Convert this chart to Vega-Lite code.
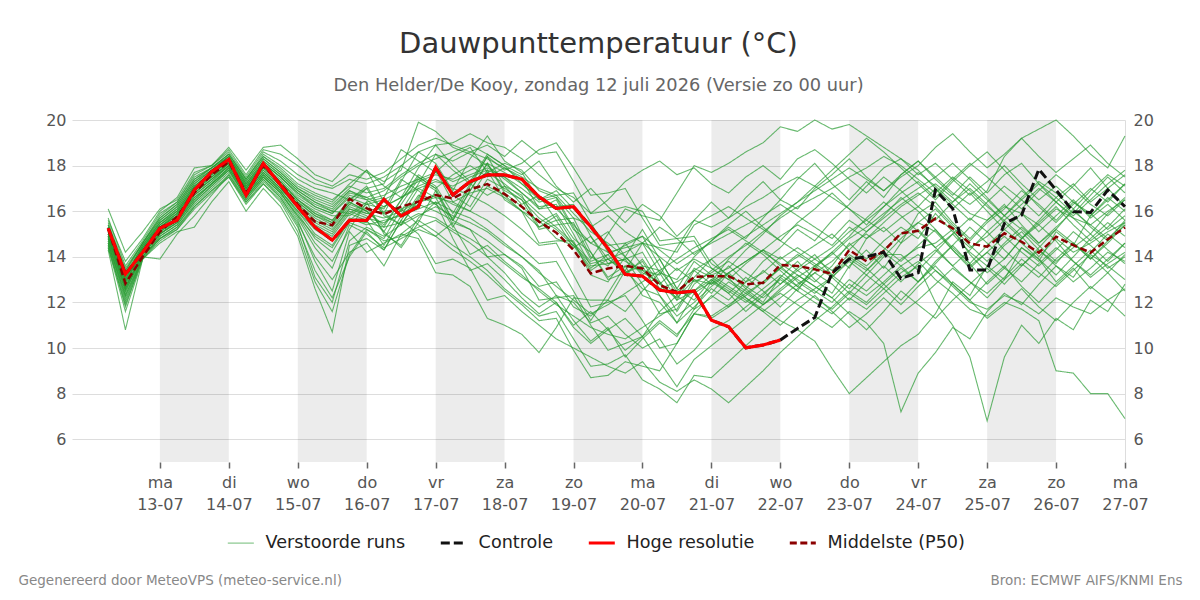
{
  "$schema": "https://vega.github.io/schema/vega-lite/v6.json",
  "width": 1053,
  "height": 342,
  "autosize": {"type": "none"},
  "padding": {"left": 72, "top": 120, "right": 75, "bottom": 138},
  "background": "white",
  "title": {
    "text": "Dauwpunttemperatuur (°C)",
    "subtitle": "Den Helder/De Kooy, zondag 12 juli 2026 (Versie zo 00 uur)",
    "font": "DejaVu Sans", "subtitleFont": "DejaVu Sans",
    "fontSize": 29, "subtitleFontSize": 17.8, "fontWeight": "normal",
    "color": "#333333", "subtitleColor": "#666666",
    "anchor": "middle", "offset": 17, "subtitlePadding": 18
  },
  "config": {"view": {"stroke": null}, "font": "DejaVu Sans", "legend": {"layout": {"bottom": {"anchor": "middle"}}}},
  "datasets": {
    "bands": [{"van":24,"tot":48},{"van":72,"tot":96},{"van":120,"tot":144},{"van":168,"tot":192},{"van":216,"tot":240},{"van":264,"tot":288},{"van":312,"tot":336}],
    "fc": [
{"uur":6,"ctl":15.25,"hres":15.25,"p50":15.25,"a":15.0,"b":14.6,"c":15.3,"d":14.8,"e":15.5,"f":14.4,"g":15.1,"h":14.9,"i":15.6,"j":14.7,"k":15.2,"l":14.5,"m":15.4,"n":14.9,"o":16.1,"p":14.3,"q":15.0,"r":15.2,"s":14.8,"t":15.3,"u":14.6,"v":15.1,"w":14.9,"x":15.7,"y":14.4,"z":15.0,"A":14.8,"B":15.3,"C":14.6,"D":15.1,"E":14.9,"F":15.4,"G":14.7,"H":15.0,"I":15.2,"J":14.5},
{"uur":12,"ctl":13.24,"hres":13.24,"p50":12.83,"a":12.8,"b":12.3,"c":13.2,"d":12.6,"e":13.5,"f":11.9,"g":13.0,"h":12.7,"i":13.8,"j":12.4,"k":13.1,"l":12.0,"m":13.3,"n":12.9,"o":14.2,"p":10.8,"q":12.6,"r":13.0,"s":12.5,"t":13.4,"u":12.2,"v":12.9,"w":12.7,"x":13.6,"y":11.6,"z":12.8,"A":12.5,"B":13.2,"C":12.1,"D":13.0,"E":12.6,"F":13.4,"G":12.3,"H":12.9,"I":13.1,"J":11.8},
{"uur":18,"ctl":14.2,"hres":14.2,"p50":14.0,"a":14.3,"b":14.0,"c":14.5,"d":14.2,"e":14.6,"f":13.9,"g":14.4,"h":14.1,"i":14.8,"j":14.2,"k":14.4,"l":14.0,"m":14.6,"n":14.3,"o":15.1,"p":13.9,"q":14.2,"r":14.4,"s":14.1,"t":14.6,"u":14.0,"v":14.3,"w":14.2,"x":14.7,"y":13.9,"z":14.3,"A":14.1,"B":14.5,"C":14.0,"D":14.4,"E":14.2,"F":14.6,"G":14.1,"H":14.3,"I":14.5,"J":14.0},
{"uur":24,"ctl":15.25,"hres":15.25,"p50":15.1,"a":15.3,"b":14.9,"c":15.6,"d":15.1,"e":15.8,"f":14.7,"g":15.4,"h":15.0,"i":16.0,"j":15.2,"k":15.5,"l":14.8,"m":15.7,"n":15.3,"o":16.1,"p":14.6,"q":15.2,"r":15.4,"s":15.0,"t":15.6,"u":13.9,"v":15.3,"w":15.1,"x":15.9,"y":14.8,"z":15.3,"A":15.0,"B":15.5,"C":14.9,"D":15.4,"E":15.1,"F":15.7,"G":15.0,"H":15.3,"I":15.5,"J":14.8},
{"uur":30,"ctl":15.61,"hres":15.61,"p50":15.76,"a":15.9,"b":15.4,"c":16.2,"d":15.6,"e":16.4,"f":15.2,"g":16.0,"h":15.5,"i":16.6,"j":15.7,"k":16.1,"l":15.3,"m":16.3,"n":15.8,"o":16.5,"p":15.1,"q":15.7,"r":16.0,"s":15.5,"t":16.2,"u":15.0,"v":15.8,"w":15.6,"x":16.4,"y":15.3,"z":15.9,"A":15.6,"B":16.1,"C":15.4,"D":15.9,"E":15.7,"F":16.3,"G":15.5,"H":15.8,"I":16.0,"J":15.2},
{"uur":36,"ctl":16.93,"hres":16.93,"p50":16.8,"a":17.0,"b":16.4,"c":17.3,"d":16.7,"e":17.6,"f":16.1,"g":17.1,"h":16.6,"i":17.9,"j":16.8,"k":17.2,"l":16.2,"m":17.4,"n":16.9,"o":17.7,"p":15.3,"q":16.8,"r":17.1,"s":16.5,"t":17.3,"u":15.8,"v":16.9,"w":16.7,"x":17.5,"y":16.3,"z":17.0,"A":16.6,"B":17.2,"C":16.4,"D":17.0,"E":16.8,"F":17.4,"G":16.5,"H":16.9,"I":17.1,"J":16.2},
{"uur":42,"ctl":17.73,"hres":17.73,"p50":17.6,"a":17.6,"b":17.1,"c":17.9,"d":17.3,"e":18.0,"f":16.8,"g":17.7,"h":17.2,"i":18.0,"j":17.4,"k":17.8,"l":16.9,"m":17.9,"n":17.5,"o":18.0,"p":16.4,"q":17.4,"r":17.7,"s":17.2,"t":17.8,"u":16.7,"v":17.5,"w":17.3,"x":17.9,"y":17.0,"z":17.6,"A":17.2,"B":17.8,"C":17.1,"D":17.6,"E":17.4,"F":17.9,"G":17.2,"H":17.5,"I":17.7,"J":16.9},
{"uur":48,"ctl":18.27,"hres":18.27,"p50":18.17,"a":18.2,"b":17.8,"c":18.4,"d":18.0,"e":18.6,"f":17.5,"g":18.3,"h":17.9,"i":18.8,"j":18.1,"k":18.4,"l":17.6,"m":18.5,"n":18.1,"o":18.7,"p":17.3,"q":18.0,"r":18.3,"s":17.9,"t":18.4,"u":17.6,"v":18.1,"w":18.0,"x":18.5,"y":17.7,"z":18.2,"A":17.9,"B":18.4,"C":17.8,"D":18.2,"E":18.0,"F":18.5,"G":17.8,"H":18.1,"I":18.3,"J":17.5},
{"uur":54,"ctl":16.7,"hres":16.7,"p50":16.8,"a":17.0,"b":16.6,"c":17.3,"d":16.8,"e":17.5,"f":16.3,"g":17.1,"h":16.7,"i":17.8,"j":16.9,"k":17.2,"l":16.4,"m":17.4,"n":17.0,"o":17.6,"p":16.0,"q":16.8,"r":17.1,"s":16.7,"t":17.3,"u":16.5,"v":17.0,"w":16.8,"x":17.4,"y":16.5,"z":17.0,"A":16.7,"B":17.2,"C":16.6,"D":17.1,"E":16.9,"F":17.4,"G":16.6,"H":17.0,"I":17.2,"J":16.4},
{"uur":60,"ctl":18.1,"hres":18.1,"p50":18.0,"a":18.0,"b":17.5,"c":18.3,"d":17.7,"e":18.6,"f":17.2,"g":18.1,"h":17.6,"i":18.8,"j":17.8,"k":18.2,"l":17.3,"m":18.4,"n":17.9,"o":18.7,"p":17.0,"q":17.7,"r":18.1,"s":17.6,"t":18.3,"u":17.4,"v":17.9,"w":17.7,"x":18.5,"y":17.4,"z":18.0,"A":17.6,"B":18.2,"C":17.5,"D":18.0,"E":17.8,"F":18.4,"G":17.5,"H":17.9,"I":18.1,"J":17.2},
{"uur":66,"ctl":17.15,"hres":17.15,"p50":17.2,"a":17.3,"b":16.8,"c":17.7,"d":17.0,"e":18.2,"f":16.5,"g":17.5,"h":16.9,"i":18.9,"j":17.1,"k":17.6,"l":16.6,"m":17.9,"n":17.2,"o":18.5,"p":16.2,"q":17.0,"r":17.5,"s":16.9,"t":17.7,"u":16.7,"v":17.3,"w":17.0,"x":18.0,"y":16.6,"z":17.3,"A":16.9,"B":17.6,"C":16.8,"D":17.4,"E":17.1,"F":17.8,"G":16.8,"H":17.2,"I":17.5,"J":16.4},
{"uur":72,"ctl":16.2,"hres":16.2,"p50":16.3,"a":16.5,"b":15.8,"c":17.0,"d":16.1,"e":17.6,"f":15.3,"g":16.7,"h":16.0,"i":18.3,"j":16.3,"k":16.9,"l":15.5,"m":17.2,"n":16.4,"o":18.0,"p":14.9,"q":16.2,"r":16.8,"s":15.9,"t":17.0,"u":15.6,"v":16.5,"w":16.2,"x":17.4,"y":15.4,"z":16.5,"A":16.0,"B":16.9,"C":15.7,"D":16.6,"E":16.3,"F":17.1,"G":15.8,"H":16.4,"I":16.8,"J":15.1},
{"uur":78,"ctl":15.3,"hres":15.3,"p50":15.54,"a":15.9,"b":14.6,"c":16.5,"d":15.3,"e":17.2,"f":13.4,"g":16.2,"h":15.0,"i":17.6,"j":15.6,"k":16.4,"l":14.0,"m":16.8,"n":15.8,"o":17.4,"p":12.6,"q":15.4,"r":16.3,"s":14.8,"t":16.6,"u":13.8,"v":15.9,"w":15.5,"x":17.0,"y":13.1,"z":16.0,"A":15.2,"B":16.4,"C":14.4,"D":16.1,"E":15.7,"F":16.7,"G":14.9,"H":15.8,"I":16.2,"J":12.9},
{"uur":84,"ctl":14.73,"hres":14.73,"p50":15.39,"a":15.6,"b":13.8,"c":16.2,"d":14.9,"e":17.0,"f":12.2,"g":15.9,"h":14.5,"i":17.3,"j":15.2,"k":16.0,"l":13.0,"m":16.5,"n":15.4,"o":17.1,"p":10.7,"q":15.0,"r":16.0,"s":14.2,"t":16.3,"u":12.5,"v":15.5,"w":15.1,"x":16.8,"y":12.0,"z":15.6,"A":14.7,"B":16.1,"C":13.5,"D":15.8,"E":15.3,"F":16.4,"G":14.4,"H":15.5,"I":15.9,"J":11.6},
{"uur":90,"ctl":15.6,"hres":15.6,"p50":16.54,"a":16.4,"b":15.2,"c":16.9,"d":15.9,"e":17.4,"f":14.0,"g":16.6,"h":15.6,"i":18.1,"j":16.1,"k":16.8,"l":14.2,"m":17.1,"n":16.3,"o":17.6,"p":14.5,"q":16.0,"r":15.9,"s":15.5,"t":17.0,"u":15.1,"v":16.4,"w":16.1,"x":16.5,"y":14.7,"z":16.5,"A":15.7,"B":16.9,"C":15.4,"D":15.8,"E":16.2,"F":17.2,"G":15.6,"H":16.3,"I":16.7,"J":14.1},
{"uur":96,"ctl":15.6,"hres":15.6,"p50":16.12,"a":16.0,"b":16.4,"c":16.6,"d":15.6,"e":17.2,"f":15.1,"g":16.3,"h":16.2,"i":17.7,"j":15.8,"k":16.6,"l":14.6,"m":16.8,"n":17.0,"o":17.4,"p":14.8,"q":15.7,"r":16.4,"s":15.2,"t":17.8,"u":14.2,"v":16.0,"w":15.9,"x":17.0,"y":15.3,"z":17.1,"A":15.4,"B":16.5,"C":15.0,"D":16.3,"E":15.9,"F":17.8,"G":15.5,"H":16.0,"I":16.5,"J":15.2},
{"uur":102,"ctl":16.52,"hres":16.52,"p50":15.87,"a":16.2,"b":15.0,"c":16.9,"d":14.5,"e":17.5,"f":14.3,"g":16.5,"h":15.1,"i":17.3,"j":15.1,"k":16.2,"l":13.6,"m":17.0,"n":15.8,"o":17.7,"p":14.3,"q":15.5,"r":16.6,"s":14.7,"t":16.4,"u":14.6,"v":15.4,"w":15.7,"x":17.2,"y":14.9,"z":15.9,"A":15.6,"B":15.9,"C":14.4,"D":16.1,"E":16.0,"F":17.1,"G":15.3,"H":15.3,"I":16.7,"J":14.8},
{"uur":108,"ctl":15.79,"hres":15.79,"p50":16.2,"a":16.6,"b":14.5,"c":17.5,"d":15.8,"e":18.0,"f":15.6,"g":16.9,"h":14.4,"i":17.8,"j":16.3,"k":16.6,"l":15.0,"m":17.6,"n":15.4,"o":18.3,"p":15.6,"q":15.9,"r":18.0,"s":14.9,"t":16.0,"u":15.0,"v":16.5,"w":16.0,"x":18.7,"y":15.4,"z":15.4,"A":15.8,"B":17.3,"C":14.8,"D":17.4,"E":16.1,"F":16.6,"G":15.5,"H":16.5,"I":17.1,"J":16.1},
{"uur":114,"ctl":16.2,"hres":16.2,"p50":16.42,"a":17.0,"b":15.7,"c":18.0,"d":17.0,"e":18.6,"f":15.0,"g":17.3,"h":15.5,"i":19.9,"j":17.4,"k":17.1,"l":14.8,"m":18.1,"n":16.5,"o":18.9,"p":16.7,"q":16.3,"r":17.5,"s":15.3,"t":17.2,"u":15.6,"v":17.6,"w":16.4,"x":18.2,"y":15.8,"z":16.6,"A":16.1,"B":18.6,"C":15.2,"D":16.9,"E":16.4,"F":17.9,"G":15.9,"H":17.5,"I":17.4,"J":15.4},
{"uur":120,"ctl":17.92,"hres":17.92,"p50":16.71,"a":17.3,"b":16.4,"c":18.3,"d":16.6,"e":18.9,"f":13.7,"g":17.6,"h":16.9,"i":19.5,"j":16.9,"k":17.4,"l":13.3,"m":18.5,"n":17.8,"o":19.2,"p":16.3,"q":16.0,"r":17.0,"s":15.6,"t":18.5,"u":15.1,"v":17.1,"w":16.7,"x":17.7,"y":16.2,"z":17.9,"A":16.4,"B":18.1,"C":14.9,"D":16.3,"E":16.6,"F":18.9,"G":15.7,"H":17.0,"I":17.7,"J":14.9},
{"uur":126,"ctl":16.71,"hres":16.71,"p50":16.56,"a":17.1,"b":14.8,"c":18.6,"d":15.3,"e":19.0,"f":13.9,"g":17.4,"h":15.4,"i":18.8,"j":15.6,"k":17.0,"l":13.2,"m":18.2,"n":16.4,"o":18.9,"p":15.7,"q":15.6,"r":17.6,"s":15.1,"t":17.8,"u":14.5,"v":15.9,"w":16.3,"x":18.4,"y":15.8,"z":16.7,"A":16.0,"B":16.9,"C":14.3,"D":16.8,"E":16.4,"F":18.0,"G":15.2,"H":15.6,"I":17.3,"J":15.5},
{"uur":132,"ctl":17.3,"hres":17.3,"p50":16.96,"a":17.5,"b":13.4,"c":18.9,"d":16.6,"e":19.4,"f":13.5,"g":17.8,"h":14.1,"i":18.5,"j":16.9,"k":16.7,"l":12.7,"m":18.6,"n":16.0,"o":18.6,"p":17.1,"q":15.2,"r":18.0,"s":14.6,"t":17.2,"u":14.0,"v":17.2,"w":16.0,"x":18.8,"y":15.5,"z":16.2,"A":15.7,"B":18.3,"C":13.8,"D":17.2,"E":16.8,"F":17.3,"G":14.8,"H":16.9,"I":17.6,"J":15.2},
{"uur":138,"ctl":17.59,"hres":17.59,"p50":17.19,"a":17.8,"b":13.7,"c":18.5,"d":17.8,"e":19.0,"f":12.1,"g":18.1,"h":14.5,"i":18.0,"j":18.1,"k":16.3,"l":11.3,"m":18.9,"n":17.1,"o":18.3,"p":18.4,"q":14.7,"r":17.5,"s":14.0,"t":17.7,"u":13.4,"v":18.4,"w":15.6,"x":17.7,"y":15.1,"z":17.4,"A":15.2,"B":19.3,"C":13.2,"D":16.7,"E":17.0,"F":18.5,"G":14.3,"H":18.1,"I":17.9,"J":14.0},
{"uur":144,"ctl":17.59,"hres":17.59,"p50":16.75,"a":17.5,"b":13.0,"c":18.0,"d":16.5,"e":18.8,"f":12.3,"g":17.7,"h":13.8,"i":17.4,"j":16.9,"k":15.8,"l":11.0,"m":18.4,"n":16.7,"o":17.9,"p":17.8,"q":14.1,"r":17.9,"s":13.3,"t":17.2,"u":12.6,"v":17.1,"w":15.0,"x":18.1,"y":14.5,"z":17.0,"A":14.6,"B":18.2,"C":12.5,"D":17.1,"E":16.6,"F":18.0,"G":13.7,"H":16.8,"I":17.5,"J":14.1},
{"uur":150,"ctl":17.4,"hres":17.4,"p50":16.2,"a":16.8,"b":12.2,"c":17.6,"d":16.0,"e":18.3,"f":11.6,"g":17.2,"h":13.2,"i":16.8,"j":16.5,"k":15.2,"l":10.6,"m":19.1,"n":16.0,"o":17.4,"p":18.1,"q":13.5,"r":17.5,"s":12.4,"t":16.6,"u":12.0,"v":16.7,"w":14.4,"x":17.8,"y":14.0,"z":16.5,"A":14.0,"B":17.7,"C":11.9,"D":16.3,"E":16.0,"F":17.2,"G":13.1,"H":16.2,"I":17.0,"J":13.6},
{"uur":156,"ctl":16.63,"hres":16.63,"p50":15.54,"a":16.1,"b":11.5,"c":18.2,"d":15.3,"e":17.6,"f":11.0,"g":16.6,"h":12.5,"i":16.2,"j":15.2,"k":14.5,"l":9.8,"m":18.5,"n":15.6,"o":16.1,"p":18.7,"q":12.1,"r":17.0,"s":11.8,"t":15.9,"u":11.4,"v":15.3,"w":13.7,"x":16.9,"y":13.4,"z":15.7,"A":13.3,"B":16.5,"C":11.2,"D":16.7,"E":14.6,"F":16.5,"G":12.6,"H":15.5,"I":16.4,"J":12.7},
{"uur":162,"ctl":16.12,"hres":16.12,"p50":15.06,"a":16.5,"b":12.0,"c":17.1,"d":15.8,"e":17.0,"f":10.4,"g":16.1,"h":11.9,"i":16.3,"j":15.4,"k":14.6,"l":10.9,"m":18.6,"n":14.8,"o":16.2,"p":19.0,"q":12.2,"r":16.7,"s":12.3,"t":15.3,"u":11.6,"v":15.6,"w":13.8,"x":16.6,"y":12.3,"z":15.2,"A":12.7,"B":16.7,"C":11.3,"D":15.6,"E":14.7,"F":16.9,"G":12.0,"H":15.9,"I":16.6,"J":12.9},
{"uur":168,"ctl":16.2,"hres":16.2,"p50":14.3,"a":15.2,"b":10.9,"c":16.4,"d":14.6,"e":16.6,"f":10.0,"g":15.4,"h":11.4,"i":15.0,"j":15.5,"k":13.2,"l":12.2,"m":17.3,"n":14.5,"o":16.3,"p":17.9,"q":12.3,"r":15.9,"s":11.2,"t":14.6,"u":10.4,"v":15.7,"w":12.5,"x":15.7,"y":12.0,"z":14.5,"A":12.1,"B":16.8,"C":9.9,"D":14.4,"E":14.7,"F":16.1,"G":11.0,"H":14.8,"I":15.3,"J":11.8},
{"uur":174,"ctl":15.32,"hres":15.32,"p50":13.27,"a":14.6,"b":10.2,"c":17.0,"d":13.5,"e":15.9,"f":9.6,"g":14.6,"h":10.9,"i":13.6,"j":14.0,"k":11.8,"l":12.1,"m":15.9,"n":13.4,"o":14.9,"p":16.7,"q":11.0,"r":15.1,"s":10.3,"t":13.8,"u":9.2,"v":14.2,"w":11.2,"x":15.4,"y":11.1,"z":13.7,"A":11.5,"B":15.5,"C":8.7,"D":14.9,"E":13.2,"F":15.3,"G":11.6,"H":14.2,"I":13.9,"J":11.4},
{"uur":180,"ctl":14.37,"hres":14.37,"p50":13.49,"a":15.1,"b":10.8,"c":16.2,"d":14.1,"e":16.5,"f":9.2,"g":14.2,"h":10.6,"i":13.7,"j":13.6,"k":12.0,"l":12.1,"m":16.0,"n":13.9,"o":13.7,"p":16.8,"q":9.9,"r":14.6,"s":10.9,"t":14.1,"u":9.3,"v":13.0,"w":12.4,"x":14.5,"y":11.4,"z":13.9,"A":11.9,"B":14.2,"C":8.8,"D":13.9,"E":12.9,"F":15.8,"G":10.8,"H":13.1,"I":15.0,"J":12.1},
{"uur":186,"ctl":13.23,"hres":13.23,"p50":13.6,"a":14.0,"b":9.9,"c":15.5,"d":13.2,"e":17.3,"f":8.9,"g":13.8,"h":10.4,"i":13.9,"j":14.6,"k":12.3,"l":13.4,"m":16.2,"n":13.3,"o":13.9,"p":17.0,"q":10.2,"r":14.0,"s":9.6,"t":14.5,"u":9.7,"v":13.3,"w":13.6,"x":14.6,"y":10.6,"z":14.2,"A":12.4,"B":14.4,"C":9.4,"D":13.4,"E":14.0,"F":15.1,"G":11.3,"H":13.6,"I":16.1,"J":11.6},
{"uur":192,"ctl":13.15,"hres":13.15,"p50":13.49,"a":13.2,"b":10.5,"c":16.3,"d":13.9,"e":17.8,"f":9.4,"g":13.4,"h":10.9,"i":12.8,"j":14.9,"k":11.2,"l":14.6,"m":16.0,"n":13.8,"o":14.2,"p":15.7,"q":10.5,"r":13.3,"s":10.4,"t":14.9,"u":8.6,"v":13.6,"w":13.4,"x":13.6,"y":10.0,"z":14.6,"A":12.9,"B":14.6,"C":9.2,"D":12.6,"E":15.2,"F":14.6,"G":10.5,"H":12.3,"I":15.8,"J":12.5},
{"uur":198,"ctl":12.54,"hres":12.54,"p50":12.76,"a":13.9,"b":11.2,"c":15.8,"d":12.8,"e":18.2,"f":8.5,"g":12.8,"h":11.4,"i":11.5,"j":13.6,"k":10.0,"l":14.4,"m":14.7,"n":12.6,"o":12.9,"p":14.5,"q":9.4,"r":12.9,"s":11.1,"t":14.3,"u":8.2,"v":12.3,"w":13.2,"x":13.4,"y":10.4,"z":14.0,"A":13.4,"B":13.3,"C":9.0,"D":12.3,"E":13.9,"F":15.3,"G":11.6,"H":12.0,"I":15.6,"J":13.3},
{"uur":204,"ctl":12.42,"hres":12.42,"p50":12.46,"a":12.6,"b":10.6,"c":14.9,"d":12.2,"e":17.6,"f":8.1,"g":13.5,"h":11.9,"i":11.7,"j":12.3,"k":10.2,"l":14.2,"m":14.8,"n":12.9,"o":11.6,"p":14.6,"q":8.3,"r":12.1,"s":10.5,"t":13.7,"u":7.6,"v":11.1,"w":14.4,"x":12.5,"y":9.3,"z":13.4,"A":13.9,"B":12.1,"C":10.2,"D":11.4,"E":12.6,"F":14.8,"G":12.3,"H":11.1,"I":16.8,"J":13.0},
{"uur":210,"ctl":12.5,"hres":12.5,"p50":13.12,"a":12.1,"b":11.5,"c":15.6,"d":13.0,"e":17.9,"f":8.6,"g":12.9,"h":12.5,"i":13.0,"j":13.5,"k":11.5,"l":15.4,"m":14.9,"n":13.4,"o":12.8,"p":14.7,"q":9.5,"r":12.5,"s":11.7,"t":14.2,"u":8.8,"v":12.4,"w":15.6,"x":13.1,"y":9.9,"z":13.9,"A":14.4,"B":13.4,"C":11.5,"D":12.0,"E":13.8,"F":14.1,"G":11.7,"H":11.8,"I":18.0,"J":14.0},
{"uur":216,"ctl":11.22,"hres":11.22,"p50":13.15,"a":13.0,"b":12.3,"c":16.4,"d":12.4,"e":17.2,"f":8.2,"g":13.3,"h":13.0,"i":12.8,"j":13.1,"k":11.4,"l":15.8,"m":13.7,"n":12.8,"o":13.4,"p":13.5,"q":10.1,"r":13.2,"s":12.2,"t":14.6,"u":8.7,"v":12.9,"w":15.3,"x":13.9,"y":10.8,"z":13.5,"A":14.8,"B":13.9,"C":11.3,"D":12.7,"E":13.2,"F":14.7,"G":12.9,"H":12.6,"I":17.7,"J":14.7},
{"uur":222,"ctl":10.93,"hres":10.93,"p50":13.15,"a":12.4,"b":11.8,"c":15.7,"d":13.3,"e":16.8,"f":7.6,"g":13.8,"h":12.5,"i":13.3,"j":12.6,"k":11.9,"l":16.2,"m":13.2,"n":13.6,"o":14.0,"p":13.0,"q":10.7,"r":13.5,"s":12.9,"t":15.0,"u":9.4,"v":13.9,"w":15.7,"x":13.1,"y":11.2,"z":13.0,"A":15.2,"B":14.4,"C":11.8,"D":13.3,"E":12.7,"F":15.4,"G":12.4,"H":12.1,"I":18.1,"J":15.3},
{"uur":228,"ctl":10.01,"hres":10.01,"p50":12.79,"a":11.6,"b":12.6,"c":16.6,"d":12.6,"e":17.5,"f":8.3,"g":13.3,"h":12.0,"i":13.8,"j":12.1,"k":12.4,"l":15.7,"m":12.7,"n":12.9,"o":14.5,"p":12.5,"q":11.3,"r":14.3,"s":12.4,"t":15.4,"u":10.1,"v":14.6,"w":16.2,"x":12.2,"y":11.8,"z":13.7,"A":14.7,"B":14.9,"C":12.3,"D":13.8,"E":12.2,"F":16.0,"G":13.1,"H":12.9,"I":18.6,"J":14.8},
{"uur":234,"ctl":10.13,"hres":10.13,"p50":12.86,"a":12.3,"b":13.4,"c":17.3,"d":12.0,"e":18.0,"f":9.0,"g":12.8,"h":12.6,"i":14.3,"j":11.6,"k":12.9,"l":15.2,"m":12.2,"n":13.3,"o":15.1,"p":11.9,"q":11.9,"r":15.0,"s":11.9,"t":15.8,"u":10.8,"v":14.1,"w":16.6,"x":11.6,"y":12.4,"z":14.3,"A":14.2,"B":15.4,"C":12.9,"D":14.3,"E":11.7,"F":15.3,"G":12.5,"H":13.8,"I":19.0,"J":15.7},
{"uur":240,"ctl":10.35,"hres":10.35,"p50":13.64,"a":13.1,"b":12.8,"c":16.5,"d":13.1,"e":17.4,"f":9.8,"g":13.5,"h":13.2,"i":14.9,"j":12.2,"k":13.5,"l":14.7,"m":12.8,"n":14.0,"o":15.7,"p":12.4,"q":12.6,"r":15.8,"s":12.5,"t":16.3,"u":11.5,"v":13.4,"w":17.1,"x":11.0,"y":13.0,"z":13.6,"A":13.7,"B":15.9,"C":13.5,"D":13.9,"E":11.2,"F":14.7,"G":11.8,"H":14.4,"I":19.7,"J":16.5},
{"uur":246,"ctl":10.86,"p50":13.6,"a":12.5,"b":13.5,"c":17.4,"d":13.8,"e":18.3,"f":10.5,"g":14.1,"h":12.7,"i":15.4,"j":12.8,"k":13.0,"l":14.2,"m":13.4,"n":13.4,"o":16.2,"p":11.9,"q":13.2,"r":16.4,"s":13.1,"t":15.8,"u":12.1,"v":12.7,"w":17.5,"x":11.7,"y":12.5,"z":12.9,"A":13.2,"B":16.4,"C":14.0,"D":14.4,"E":10.8,"F":15.5,"G":12.6,"H":15.2,"I":19.5,"J":16.1},
{"uur":252,"ctl":11.34,"p50":13.45,"a":13.6,"b":14.1,"c":18.1,"d":13.0,"e":18.7,"f":11.2,"g":13.6,"h":12.2,"i":15.0,"j":13.3,"k":12.5,"l":13.7,"m":13.9,"n":12.9,"o":16.6,"p":11.4,"q":12.7,"r":17.1,"s":13.6,"t":15.3,"u":12.6,"v":13.5,"w":17.1,"x":12.3,"y":12.0,"z":12.4,"A":12.7,"B":16.9,"C":14.5,"D":13.9,"E":10.3,"F":16.1,"G":13.3,"H":14.7,"I":20.0,"J":17.0},
{"uur":258,"ctl":13.3,"p50":13.25,"a":14.2,"b":13.2,"c":17.2,"d":12.4,"e":18.1,"f":11.8,"g":13.1,"h":11.7,"i":14.5,"j":13.8,"k":12.0,"l":13.2,"m":14.4,"n":13.6,"o":17.0,"p":10.9,"q":12.2,"r":17.8,"s":14.1,"t":14.8,"u":13.1,"v":14.2,"w":16.6,"x":11.6,"y":11.5,"z":13.1,"A":12.2,"B":17.4,"C":15.0,"D":13.4,"E":9.1,"F":16.8,"G":12.8,"H":15.6,"I":19.6,"J":17.6},
{"uur":264,"ctl":13.9,"p50":14.3,"a":13.5,"b":12.6,"c":16.5,"d":13.6,"e":17.4,"f":12.5,"g":13.9,"h":12.4,"i":15.3,"j":14.5,"k":12.8,"l":14.0,"m":15.1,"n":14.6,"o":17.5,"p":11.6,"q":13.0,"r":18.5,"s":14.8,"t":15.6,"u":12.4,"v":14.9,"w":16.1,"x":10.9,"y":12.2,"z":13.8,"A":11.5,"B":17.9,"C":14.3,"D":14.1,"E":8.0,"F":16.1,"G":12.1,"H":16.3,"I":19.8,"J":18.3},
{"uur":270,"ctl":14.0,"p50":13.8,"a":14.8,"b":13.4,"c":17.3,"d":14.3,"e":16.8,"f":12.0,"g":13.4,"h":11.9,"i":14.8,"j":15.0,"k":12.3,"l":13.5,"m":15.6,"n":13.9,"o":17.9,"p":11.1,"q":12.5,"r":19.2,"s":15.3,"t":15.1,"u":13.2,"v":15.7,"w":15.6,"x":11.5,"y":11.7,"z":13.2,"A":10.8,"B":17.4,"C":15.1,"D":13.6,"E":8.7,"F":15.4,"G":12.9,"H":17.1,"I":19.3,"J":17.5},
{"uur":276,"ctl":14.2,"p50":14.25,"a":15.3,"b":14.2,"c":16.6,"d":13.5,"e":17.5,"f":12.8,"g":14.1,"h":12.6,"i":15.5,"j":14.4,"k":12.9,"l":12.8,"m":16.2,"n":14.7,"o":18.4,"p":10.2,"q":13.2,"r":18.6,"s":15.9,"t":15.7,"u":12.6,"v":16.4,"w":15.1,"x":12.2,"y":12.4,"z":14.0,"A":11.6,"B":16.9,"C":15.8,"D":14.3,"E":9.4,"F":16.2,"G":13.6,"H":17.9,"I":18.8,"J":16.9},
{"uur":282,"ctl":13.05,"p50":15.03,"a":14.6,"b":13.6,"c":17.6,"d":14.6,"e":16.9,"f":13.5,"g":14.1,"h":13.3,"i":16.2,"j":13.8,"k":13.6,"l":12.1,"m":16.8,"n":15.3,"o":18.0,"p":7.2,"q":13.9,"r":17.9,"s":16.5,"t":16.3,"u":11.9,"v":15.8,"w":15.7,"x":11.5,"y":13.1,"z":14.8,"A":12.5,"B":17.5,"C":16.6,"D":15.0,"E":10.1,"F":17.0,"G":12.9,"H":18.3,"I":18.3,"J":17.6},
{"uur":288,"ctl":13.3,"p50":15.14,"a":15.9,"b":12.9,"c":18.2,"d":15.2,"e":16.2,"f":12.9,"g":13.4,"h":13.8,"i":16.7,"j":14.5,"k":14.1,"l":12.9,"m":17.3,"n":14.8,"o":17.4,"p":8.9,"q":14.4,"r":17.2,"s":17.0,"t":16.8,"u":12.7,"v":15.1,"w":16.2,"x":12.1,"y":13.6,"z":15.5,"A":11.9,"B":18.0,"C":16.0,"D":15.5,"E":10.6,"F":17.7,"G":13.7,"H":17.6,"I":17.8,"J":18.2},
{"uur":294,"ctl":16.93,"p50":15.68,"a":16.4,"b":13.8,"c":17.4,"d":14.4,"e":17.0,"f":13.6,"g":14.2,"h":13.0,"i":17.2,"j":15.2,"k":13.4,"l":13.7,"m":16.6,"n":15.9,"o":16.8,"p":9.8,"q":14.6,"r":16.5,"s":17.5,"t":16.2,"u":13.4,"v":14.4,"w":15.6,"x":12.8,"y":12.0,"z":16.1,"A":11.3,"B":18.8,"C":15.2,"D":15.1,"E":11.5,"F":17.1,"G":14.3,"H":18.1,"I":17.0,"J":17.5},
{"uur":300,"ctl":16.12,"p50":15.25,"a":15.5,"b":14.5,"c":16.7,"d":15.0,"e":16.3,"f":12.8,"g":15.0,"h":12.4,"i":16.6,"j":14.3,"k":12.7,"l":14.5,"m":17.4,"n":15.1,"o":17.5,"p":10.9,"q":15.2,"r":17.3,"s":18.1,"t":15.4,"u":12.8,"v":13.6,"w":16.4,"x":13.5,"y":11.0,"z":15.3,"A":12.1,"B":19.4,"C":14.4,"D":14.3,"E":12.9,"F":16.4,"G":13.6,"H":17.4,"I":16.1,"J":16.8},
{"uur":306,"ctl":13.42,"p50":14.59,"a":14.8,"b":13.7,"c":17.5,"d":14.2,"e":15.6,"f":12.1,"g":15.7,"h":11.7,"i":15.9,"j":13.6,"k":12.0,"l":15.3,"m":18.1,"n":14.4,"o":16.9,"p":10.4,"q":14.1,"r":18.0,"s":17.4,"t":14.7,"u":12.1,"v":14.3,"w":17.0,"x":12.9,"y":9.6,"z":14.5,"A":12.8,"B":18.6,"C":13.7,"D":13.5,"E":12.3,"F":17.2,"G":12.9,"H":16.7,"I":16.8,"J":16.3},
{"uur":312,"ctl":13.42,"p50":14.44,"a":15.6,"b":12.8,"c":16.8,"d":13.6,"e":16.4,"f":12.9,"g":15.1,"h":11.4,"i":15.6,"j":14.2,"k":11.7,"l":14.6,"m":17.5,"n":14.9,"o":16.2,"p":11.6,"q":13.3,"r":18.6,"s":16.6,"t":15.5,"u":11.3,"v":15.1,"w":16.3,"x":12.2,"y":6.8,"z":13.8,"A":13.5,"B":17.9,"C":14.5,"D":14.2,"E":13.6,"F":16.5,"G":12.4,"H":17.3,"I":16.0,"J":16.9},
{"uur":318,"ctl":15.46,"p50":15.03,"a":16.3,"b":13.5,"c":17.6,"d":14.5,"e":17.1,"f":13.6,"g":14.3,"h":12.0,"i":16.2,"j":13.5,"k":12.3,"l":13.9,"m":16.8,"n":15.6,"o":15.6,"p":12.4,"q":13.9,"r":17.8,"s":15.8,"t":16.1,"u":11.9,"v":15.8,"w":15.5,"x":13.0,"y":9.6,"z":14.6,"A":12.8,"B":18.5,"C":15.2,"D":14.9,"E":13.0,"F":15.8,"G":13.1,"H":18.0,"I":15.2,"J":18.4},
{"uur":324,"ctl":15.83,"p50":14.66,"a":15.4,"b":14.4,"c":18.1,"d":15.1,"e":16.5,"f":12.7,"g":13.6,"h":11.7,"i":15.9,"j":12.9,"k":12.0,"l":14.8,"m":16.1,"n":14.9,"o":16.3,"p":11.9,"q":14.8,"r":17.0,"s":16.5,"t":16.9,"u":12.6,"v":15.2,"w":14.8,"x":13.7,"y":11.0,"z":15.3,"A":13.6,"B":19.2,"C":14.6,"D":14.2,"E":14.4,"F":16.6,"G":13.9,"H":17.2,"I":15.9,"J":19.2},
{"uur":330,"ctl":17.84,"p50":14.18,"a":14.6,"b":13.9,"c":17.2,"d":14.3,"e":15.8,"f":12.0,"g":14.4,"h":11.2,"i":15.4,"j":13.7,"k":11.5,"l":15.6,"m":16.9,"n":14.0,"o":17.0,"p":12.8,"q":15.4,"r":16.2,"s":17.2,"t":16.3,"u":11.8,"v":14.5,"w":15.5,"x":13.1,"y":10.2,"z":14.6,"A":14.3,"B":18.4,"C":13.9,"D":13.6,"E":13.8,"F":17.3,"G":13.3,"H":16.5,"I":15.1,"J":19.6},
{"uur":336,"ctl":16.93,"p50":14.88,"a":15.2,"b":12.9,"c":16.4,"d":13.7,"e":16.6,"f":12.8,"g":15.2,"h":9.0,"i":16.1,"j":14.4,"k":12.2,"l":16.4,"m":17.6,"n":14.8,"o":16.4,"p":13.6,"q":14.7,"r":15.5,"s":16.6,"t":15.6,"u":11.2,"v":13.8,"w":16.2,"x":13.9,"y":11.3,"z":15.3,"A":13.6,"B":17.7,"C":13.2,"D":14.3,"E":15.1,"F":16.8,"G":12.7,"H":17.1,"I":15.8,"J":20.0},
{"uur":342,"ctl":15.98,"p50":14.51,"a":16.1,"b":13.6,"c":17.1,"d":14.6,"e":17.2,"f":13.5,"g":14.6,"h":8.9,"i":15.7,"j":13.8,"k":11.8,"l":15.7,"m":17.0,"n":14.2,"o":15.8,"p":13.1,"q":13.8,"r":16.3,"s":15.9,"t":16.4,"u":12.0,"v":14.4,"w":15.4,"x":14.6,"y":10.8,"z":16.0,"A":12.9,"B":18.3,"C":14.0,"D":15.1,"E":14.5,"F":16.1,"G":13.4,"H":16.4,"I":16.5,"J":19.3},
{"uur":348,"ctl":15.94,"p50":14.18,"a":15.3,"b":14.3,"c":17.9,"d":13.9,"e":16.4,"f":12.6,"g":13.9,"h":8.0,"i":15.4,"j":13.2,"k":11.5,"l":15.0,"m":16.3,"n":14.6,"o":16.5,"p":14.2,"q":13.1,"r":17.0,"s":16.7,"t":15.9,"u":12.7,"v":15.0,"w":14.7,"x":14.0,"y":12.1,"z":15.4,"A":13.5,"B":18.9,"C":14.8,"D":14.5,"E":15.8,"F":16.9,"G":14.1,"H":15.8,"I":15.7,"J":18.5},
{"uur":354,"ctl":16.93,"p50":14.77,"a":14.7,"b":13.5,"c":17.0,"d":14.7,"e":17.0,"f":13.3,"g":14.6,"h":8.0,"i":16.0,"j":13.9,"k":12.1,"l":15.9,"m":15.8,"n":15.1,"o":17.2,"p":15.0,"q":13.7,"r":16.4,"s":17.5,"t":15.2,"u":12.1,"v":14.3,"w":15.3,"x":13.3,"y":11.6,"z":14.8,"A":14.2,"B":18.1,"C":15.5,"D":13.8,"E":16.6,"F":17.6,"G":13.6,"H":16.5,"I":16.3,"J":17.9},
{"uur":360,"ctl":16.2,"p50":15.29,"a":15.6,"b":14.0,"c":17.6,"d":15.4,"e":16.2,"f":12.5,"g":15.4,"h":6.9,"i":16.5,"j":14.6,"k":12.6,"l":16.6,"m":16.5,"n":15.5,"o":17.8,"p":14.4,"q":14.2,"r":17.2,"s":16.8,"t":15.8,"u":11.4,"v":13.7,"w":16.1,"x":14.1,"y":12.8,"z":15.5,"A":13.8,"B":17.5,"C":14.9,"D":14.6,"E":16.0,"F":17.1,"G":13.0,"H":17.2,"I":15.6,"J":19.3}
    ]
  },
  "encoding": {
    "x": {
      "field": "uur", "type": "quantitative",
      "scale": {"domain": [-6.6, 360], "nice": false, "zero": false},
      "axis": {
        "title": null, "values": [24,48,72,96,120,144,168,192,216,240,264,288,312,336,360],
        "labelExpr": "[['zo','ma','di','wo','do','vr','za'][(datum.value/24)%7], (12+datum.value/24)+'-07']",
        "grid": false, "domain": false, "ticks": true, "tickColor": "#666666", "tickSize": 6, "tickWidth": 1.5,
        "labelFontSize": 16, "labelColor": "#555555", "labelPadding": 6, "labelLineHeight": 22,
        "labelOverlap": false, "labelFlush": false
      }
    }
  },
  "resolve": {"axis": {"y": "independent"}},
  "layer": [
    {
      "data": {"name": "bands"},
      "mark": {"type": "rect", "color": "#000000", "opacity": 0.075},
      "encoding": {
        "x": {"field": "van", "type": "quantitative", "scale": {"domain": [-6.6, 360], "nice": false, "zero": false}},
        "x2": {"field": "tot"}
      }
    },
    {
      "data": {"name": "fc"},
      "transform": [{"fold": ["a","b","c","d","e","f","g","h","i","j","k","l","m","n","o","p","q","r","s","t","u","v","w","x","y","z","A","B","C","D","E","F","G","H","I","J"], "as": ["lid", "waarde"]}],
      "mark": {"type": "line", "strokeWidth": 1.1},
      "encoding": {
        "y": {"field": "waarde", "type": "quantitative", "scale": {"domain": [5, 20], "nice": false, "zero": false},
          "axis": {"values": [6,8,10,12,14,16,18,20], "grid": true, "gridColor": "#dddddd", "domain": false, "ticks": false, "labelFontSize": 16, "labelColor": "#555555", "labelPadding": 6,
            "title": "Gegenereerd door MeteoVPS (meteo-service.nl)", "titleAngle": 0, "titleAlign": "left", "titleBaseline": "middle",
            "titleX": -54, "titleY": 460, "titleFontSize": 13.5, "titleFontWeight": "normal", "titleColor": "#888888", "titleFont": "DejaVu Sans"}},
        "detail": {"field": "lid"},
        "color": {"datum": "Verstoorde runs", "type": "nominal",
          "scale": {"domain": ["Verstoorde runs","Controle","Hoge resolutie","Middelste (P50)"], "range": ["rgba(40,155,50,0.7)","#111111","#ff0000","#8b0000"]},
          "legend": {"orient": "bottom", "direction": "horizontal", "title": null, "symbolType": "stroke", "symbolSize": 676,
            "labelFontSize": 17.6, "labelColor": "#222222", "labelFont": "DejaVu Sans", "columnPadding": 28, "offset": 22, "labelOffset": 16,
            "symbolStrokeWidth": 3,
            "encode": {"symbols": {"update": {"strokeWidth": {"signal": "datum.value === 'Verstoorde runs' ? 1 : 3"}}}}}},
        "strokeDash": {"datum": "Verstoorde runs", "type": "nominal",
          "scale": {"domain": ["Verstoorde runs","Controle","Hoge resolutie","Middelste (P50)"], "range": [[1,0],[9,4],[1,0],[7,3.5]]}}
      }
    },
    {
      "data": {"name": "fc"},
      "mark": {"type": "line", "strokeWidth": 2.5},
      "encoding": {
        "y": {"field": "p50", "type": "quantitative", "scale": {"domain": [5, 20], "nice": false, "zero": false},
          "axis": {"orient": "right", "values": [6,8,10,12,14,16,18,20], "grid": false, "domain": true, "domainColor": "#dddddd", "ticks": false, "labelFontSize": 16, "labelColor": "#555555", "labelPadding": 8,
            "title": "Bron: ECMWF AIFS/KNMI Ens", "titleAngle": 0, "titleAlign": "right", "titleBaseline": "middle",
            "titleX": 57, "titleY": 460, "titleFontSize": 13.5, "titleFontWeight": "normal", "titleColor": "#888888", "titleFont": "DejaVu Sans"}},
        "color": {"datum": "Middelste (P50)", "type": "nominal"},
        "strokeDash": {"datum": "Middelste (P50)", "type": "nominal"}
      }
    },
    {
      "data": {"name": "fc"},
      "mark": {"type": "line", "strokeWidth": 3},
      "encoding": {
        "y": {"field": "ctl", "type": "quantitative", "scale": {"domain": [5, 20], "nice": false, "zero": false}, "axis": null},
        "color": {"datum": "Controle", "type": "nominal"},
        "strokeDash": {"datum": "Controle", "type": "nominal"}
      }
    },
    {
      "data": {"name": "fc"},
      "mark": {"type": "line", "strokeWidth": 3.2},
      "encoding": {
        "y": {"field": "hres", "type": "quantitative", "scale": {"domain": [5, 20], "nice": false, "zero": false}, "axis": null},
        "color": {"datum": "Hoge resolutie", "type": "nominal"},
        "strokeDash": {"datum": "Hoge resolutie", "type": "nominal"}
      }
    }
  ]
}
